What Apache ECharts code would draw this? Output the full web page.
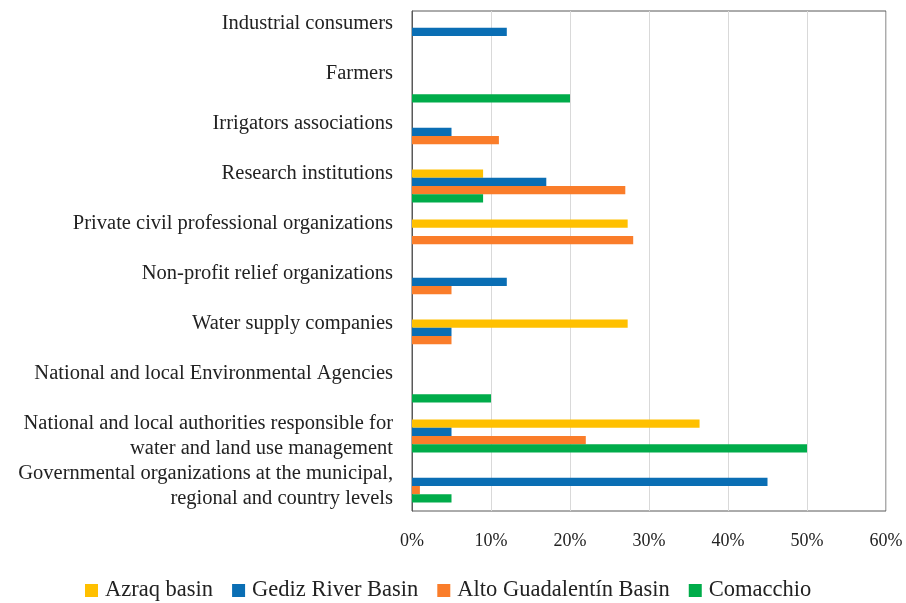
<!DOCTYPE html>
<html>
<head>
<meta charset="utf-8">
<script src="https://cdn.jsdelivr.net/npm/echarts@6/dist/echarts.min.js"></script>
<style>
    html, body { margin: 0; padding: 0; background: #fff; }
    #chart { width: 906px; height: 603px; }
</style>
</head>
<body>
<div id="chart"></div>
<script>
    // categories, top to bottom
    var categories = [
        'Industrial consumers',
        'Farmers',
        'Irrigators associations',
        'Research institutions',
        'Private civil professional organizations',
        'Non-profit relief organizations',
        'Water supply companies',
        'National and local Environmental Agencies',
        'National and local authorities responsible for\nwater and land use management',
        'Governmental organizations at the municipal,\nregional and country levels'
    ];
    var seriesNames = ['Azraq basin', 'Gediz River Basin', 'Alto Guadalentín Basin', 'Comacchio'];
    var colors = ['#FFC000', '#0A6EB4', '#FA7D2A', '#00AC4A'];

    // values in %
    var azraq = [0, 0, 0, 9, 27.3, 0, 27.3, 0, 36.4, 0];
    var gediz = [12, 0, 5, 17, 0, 12, 5, 0, 5, 45];
    var alto = [0, 0, 11, 27, 28, 5, 5, 0, 22, 1];
    var comacchio = [0, 20, 0, 9, 0, 0, 0, 10, 50, 5];

    var xTicks = [0, 10, 20, 30, 40, 50, 60];

    var chart = echarts.init(document.getElementById('chart'));
    var font = '"Liberation Serif", "DejaVu Serif", serif';

    var allData = [azraq, gediz, alto, comacchio];
    var series = allData.map(function (d, i) {
        return {
            name: seriesNames[i],
            type: 'bar',
            data: d,
            barGap: '0%',
            barCategoryGap: '34%',
            itemStyle: {color: colors[i]}
        };
    });

    chart.setOption({
        animation: false,
        color: colors,
        grid: {
            left: 412,
            right: 20,
            top: 11,
            bottom: 92,
            show: true,
            borderColor: '#595959',
            borderWidth: 1
        },
        legend: {
            top: 574,
            left: 80,
            icon: 'rect',
            itemWidth: 13,
            itemHeight: 13,
            itemGap: 19,
            textStyle: {fontFamily: font, fontSize: 22.5, color: '#222', padding: [0, 0, 0, 2]},
            data: seriesNames
        },
        xAxis: {
            type: 'value',
            min: xTicks[0],
            max: xTicks[xTicks.length - 1],
            interval: 10,
            axisLine: {show: false},
            axisTick: {show: false},
            axisLabel: {
                formatter: '{value}%',
                fontFamily: font,
                fontSize: 18,
                color: '#222',
                margin: 21
            },
            splitLine: {lineStyle: {color: '#d9d9d9', width: 1}}
        },
        yAxis: {
            type: 'category',
            inverse: true,
            data: categories,
            axisLine: {show: true, lineStyle: {color: '#595959'}},
            axisTick: {show: false},
            axisLabel: {
                interval: 0,
                showMinLabel: true,
                showMaxLabel: true,
                fontFamily: font,
                fontSize: 20.5,
                color: '#222',
                margin: 19,
                lineHeight: 25,
                padding: [4, 0, 0, 0],
                formatter: function (v) {
                    return v.indexOf('\n') < 0 ? v + '\n ' : v;
                }
            }
        },
        series: series
    });
</script>
</body>
</html>
